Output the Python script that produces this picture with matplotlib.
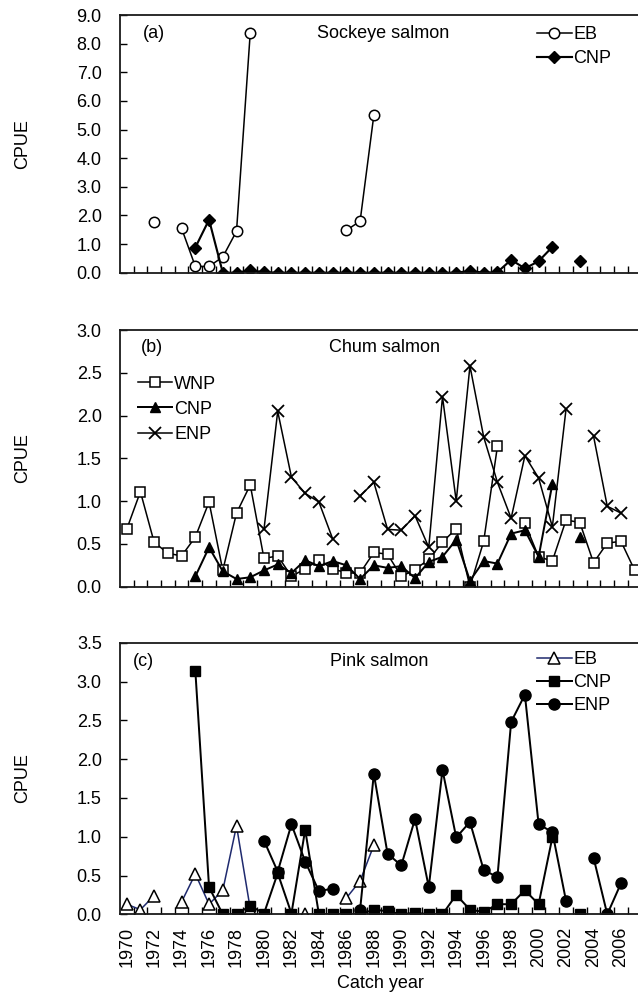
import numpy as np
import matplotlib
matplotlib.use("Agg")
import matplotlib.pyplot as plt
from matplotlib.ticker import FixedLocator, FormatStrFormatter

nan = np.nan
years = list(range(1970, 2008))

# (a) Sockeye salmon
sock_eb = [nan, nan, 1.78, nan, 1.55, 0.22, 0.22, 0.55, 1.45, 8.38,
           nan, nan, nan, nan, nan, nan, 1.48, 1.80, 5.50, nan,
           nan, nan, nan, nan, nan, nan, nan, nan, nan, nan,
           nan, nan, nan, nan, nan, nan, nan, nan]
sock_cnp = [nan, nan, nan, nan, nan, 0.88, 1.85, 0.00, 0.00, 0.08,
            0.02, 0.00, 0.00, 0.00, 0.00, 0.00, 0.00, 0.00, 0.00, 0.00,
            0.00, 0.00, 0.00, 0.00, 0.00, 0.06, 0.00, 0.02, 0.45, 0.15,
            0.40, 0.90, nan, 0.40, nan, nan, nan, nan]

# (b) Chum salmon
chum_wnp = [0.67, 1.11, 0.52, 0.39, 0.36, 0.58, 0.99, 0.19, 0.86, 1.19,
            0.33, 0.36, 0.12, 0.21, 0.31, 0.21, 0.16, 0.16, 0.40, 0.38,
            0.12, 0.20, 0.32, 0.52, 0.68, 0.00, 0.53, 1.64, nan, 0.74,
            0.35, 0.30, 0.78, 0.75, 0.28, 0.51, 0.53, 0.19]
chum_cnp = [nan, nan, nan, nan, nan, 0.12, 0.46, 0.18, 0.09, 0.11,
            0.19, 0.26, 0.16, 0.31, 0.24, 0.30, 0.25, 0.09, 0.25, 0.22,
            0.24, 0.10, 0.29, 0.35, 0.55, 0.07, 0.30, 0.27, 0.62, 0.66,
            0.35, 1.20, nan, 0.58, nan, nan, nan, nan]
chum_enp = [nan, nan, nan, nan, nan, nan, nan, nan, nan, nan,
            0.67, 2.05, 1.28, 1.09, 0.99, 0.56, nan, 1.06, 1.22, 0.67,
            0.66, 0.83, 0.46, 2.22, 1.00, 2.58, 1.75, 1.22, 0.80, 1.53,
            1.27, 0.70, 2.08, nan, 1.76, 0.94, 0.86, nan]

# (c) Pink salmon
pink_eb = [0.13, 0.06, 0.24, nan, 0.16, 0.52, 0.13, 0.31, 1.14, 0.07,
           nan, nan, nan, 0.00, nan, nan, 0.21, 0.43, 0.89, nan,
           nan, nan, nan, nan, nan, nan, nan, nan, nan, nan,
           nan, nan, nan, nan, nan, nan, nan, nan]
pink_cnp = [nan, nan, nan, nan, nan, 3.14, 0.35, 0.00, 0.00, 0.11,
            0.01, 0.53, 0.01, 1.09, 0.00, 0.00, 0.00, 0.00, 0.06, 0.04,
            0.00, 0.02, 0.00, 0.00, 0.25, 0.06, 0.03, 0.13, 0.13, 0.31,
            0.13, 0.99, nan, 0.00, nan, nan, nan, nan]
pink_enp = [nan, nan, nan, nan, nan, nan, nan, nan, nan, nan,
            0.95, 0.55, 1.16, 0.68, 0.30, 0.33, nan, 0.06, 1.81, 0.78,
            0.63, 1.23, 0.35, 1.86, 0.99, 1.19, 0.57, 0.48, 2.48, 2.83,
            1.16, 1.06, 0.17, nan, 0.73, 0.00, 0.40, nan]

titles = ["Sockeye salmon", "Chum salmon", "Pink salmon"]
tags = ["(a)", "(b)", "(c)"]
ylims = [9.0, 3.0, 3.5]
ysteps = [1.0, 0.5, 0.5]
year_labels = [str(y) for y in range(1970, 2007, 2)]

plt.rcParams['font.family'] = ['Liberation Sans', 'DejaVu Sans']
FS = 13

fig = plt.figure(figsize=(6.38, 9.94), dpi=100)
W, H = 638.0, 994.0
left = 119.8 / W
width = 521.8 / W
boxes = [(15.0, 272.7), (330.0, 586.7), (642.7, 914.3)]
axes = []
for top, bot in boxes:
    ax = fig.add_axes([left, 1 - bot / H, width, (bot - top) / H])
    axes.append(ax)

LW = 1.1
MS = 7.5
MEW = 1.1
tag_x = [0.066, 0.061, 0.046]
title_x = [0.504, 0.508, 0.497]


def style(ax, i):
    ax.set_xlim(1969.5, 2007.5)
    ax.set_ylim(0, ylims[i])
    ax.yaxis.set_major_locator(FixedLocator(np.arange(0, ylims[i] + 1e-6, ysteps[i])))
    ax.yaxis.set_major_formatter(FormatStrFormatter('%.1f'))
    ax.xaxis.set_major_locator(FixedLocator(range(1970, 2007, 2)))
    ax.xaxis.set_minor_locator(FixedLocator(np.arange(1970.5, 2007.5, 1.0)))
    ax.tick_params(axis='y', direction='in', length=5, width=1.0, pad=13,
                   labelsize=FS, right=False)
    ax.tick_params(axis='x', which='major', length=0, pad=9, labelsize=FS)
    ax.tick_params(axis='x', which='minor', direction='in', length=5, width=1.0)
    for s in ax.spines.values():
        s.set_linewidth(1.3)
        s.set_color('#1a1a1a')
    ax.text(tag_x[i], 0.93, tags[i], transform=ax.transAxes,
            ha='center', va='center', fontsize=FS)
    ax.text(title_x[i], 0.93, titles[i], transform=ax.transAxes,
            ha='center', va='center', fontsize=FS)
    if i < 2:
        ax.set_xticklabels([])
    else:
        ax.set_xticklabels(year_labels, rotation=90)


# (a)
ax = axes[0]
ax.plot(years, sock_eb, color='black', lw=LW, marker='o', ms=MS, mfc='white',
        mec='black', mew=MEW, label='EB')
ax.plot(years, sock_cnp, color='black', lw=LW * 1.4, marker='D', ms=6, mfc='black',
        mec='black', label='CNP')
style(ax, 0)
ax.legend(loc='upper left', bbox_to_anchor=(0.8, 0.958), frameon=False,
          fontsize=FS, handlelength=1.9, handletextpad=0.1, labelspacing=0.42,
          borderpad=0, borderaxespad=0)

# (b)
ax = axes[1]
ax.plot(years, chum_wnp, color='black', lw=LW, marker='s', ms=7.5, mfc='white',
        mec='black', mew=MEW, label='WNP')
ax.plot(years, chum_cnp, color='black', lw=LW * 1.3, marker='^', ms=7.5, mfc='black',
        mec='black', label='CNP')
ax.plot(years, chum_enp, color='black', lw=LW, marker='x', ms=8, mec='black',
        mew=1.3, label='ENP')
style(ax, 1)
ax.legend(loc='upper left', bbox_to_anchor=(0.035, 0.822), frameon=False,
          fontsize=FS, handlelength=1.9, handletextpad=0.1, labelspacing=0.45,
          borderpad=0, borderaxespad=0)

# (c)
ax = axes[2]
ax.plot(years, pink_eb, color='#1f2a6e', lw=LW, marker='^', ms=8, mfc='white',
        mec='black', mew=MEW, label='EB')
ax.plot(years, pink_cnp, color='black', lw=LW * 1.3, marker='s', ms=7.5, mfc='black',
        mec='black', label='CNP')
ax.plot(years, pink_enp, color='black', lw=LW * 1.3, marker='o', ms=8, mfc='black',
        mec='black', label='ENP')
style(ax, 2)
ax.legend(loc='upper left', bbox_to_anchor=(0.8, 0.968), frameon=False,
          fontsize=FS, handlelength=1.9, handletextpad=0.1, labelspacing=0.33,
          borderpad=0, borderaxespad=0)

# Axis titles
for top, bot in boxes:
    fig.text(22.7 / W, 1 - (top + bot) / 2 / H, 'CPUE', rotation=90,
             ha='center', va='center', fontsize=FS)
fig.text(380.0 / W, 1 - 983.0 / H, 'Catch year', ha='center', va='center', fontsize=FS)

fig.savefig('out.png', dpi=100)
